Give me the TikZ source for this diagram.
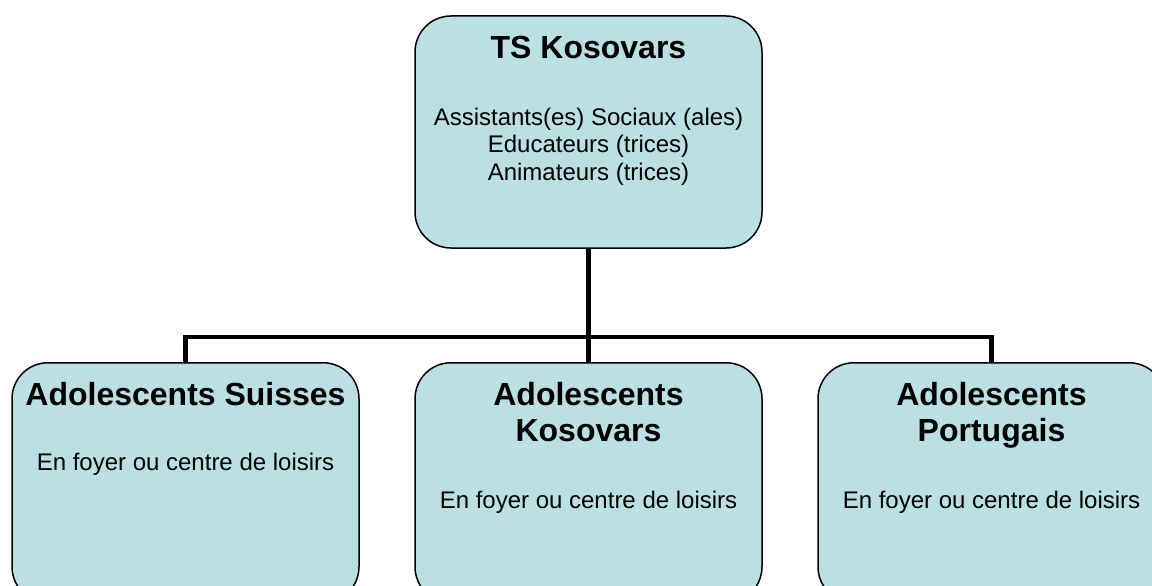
\documentclass[tikz,border=0pt]{standalone}
\usepackage{fontspec}
\setmainfont{Liberation Sans}
\definecolor{boxfill}{RGB}{186,224,228}
\begin{document}
\begin{tikzpicture}[x=1pt,y=-1pt,
  orgbox/.style={draw=black, line width=1.5pt, fill=boxfill, rounded corners=36pt,
     minimum width=347pt, inner sep=0pt},
  link/.style={line width=4.5pt, draw=black},
  ttl/.style={anchor=base, inner sep=0pt, font=\fontsize{32}{36}\selectfont\bfseries},
  txt/.style={anchor=base, inner sep=0pt, font=\fontsize{24}{28}\selectfont}]
\useasboundingbox (0,0) rectangle (1152,586);
\clip (0,0) rectangle (1152,586);
% boxes
\node[orgbox, minimum height=232pt] (top) at (588.5,132) {};
\node[orgbox, minimum height=240pt, anchor=north] (l) at (185.5,362) {};
\node[orgbox, minimum height=240pt, anchor=north] (m) at (588.5,362) {};
\node[orgbox, minimum height=240pt, anchor=north] (r) at (991.5,362) {};
% connectors
\coordinate (jl) at (185.5,337);
\coordinate (jm) at (588.5,337);
\coordinate (jr) at (991.5,337);
\draw[link] (top.south) -- (jm);
\draw[link, line cap=rect] (jl) -- (jr);
\draw[link] (jl) -- (l.north);
\draw[link] (jm) -- (m.north);
\draw[link] (jr) -- (r.north);
% top texts
\node[ttl] (t0) at (588.5,59) {TS Kosovars};
\node[txt] (t1) at (588.5,125) {Assistants(es) Sociaux (ales)};
\node[txt] (t2) at (588.5,152.6) {Educateurs (trices)};
\node[txt] (t3) at (588.5,180.2) {Animateurs (trices)};
% left
\node[ttl] (l0) at (185.5,405) {Adolescents Suisses};
\node[txt] (l1) at (185.5,470) {En foyer ou centre de loisirs};
% middle
\node[ttl] (m0) at (588.5,405) {Adolescents};
\node[ttl] (m1) at (588.5,441) {Kosovars};
\node[txt] (m2) at (588.5,508.5) {En foyer ou centre de loisirs};
% right
\node[ttl] (r0) at (991.5,405) {Adolescents};
\node[ttl] (r1) at (991.5,441) {Portugais};
\node[txt] (r2) at (991.5,508.5) {En foyer ou centre de loisirs};
\end{tikzpicture}
\end{document}
